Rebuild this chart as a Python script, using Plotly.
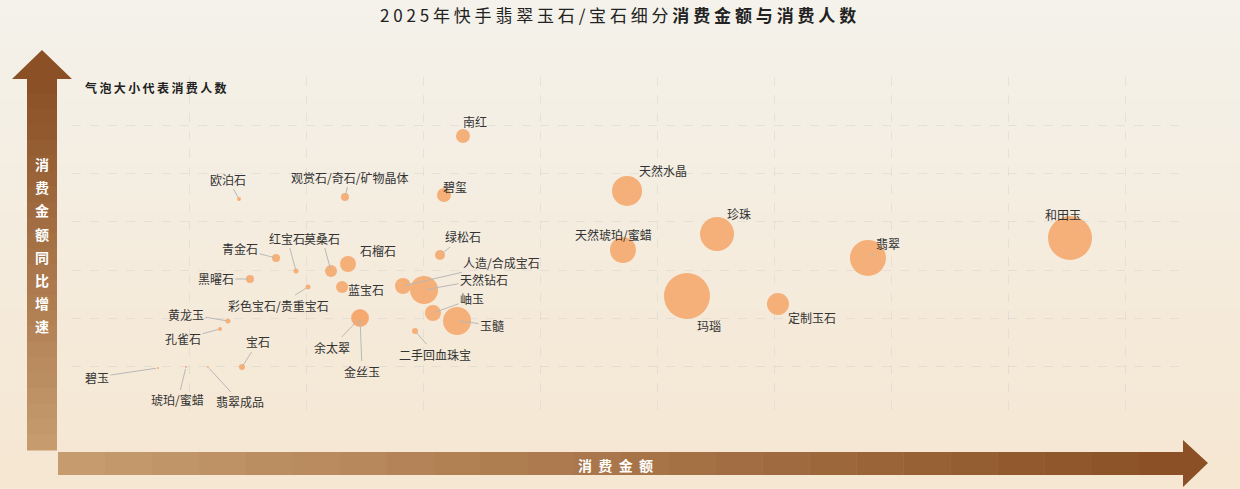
import plotly.graph_objects as go

W, H = 1240, 489
L, R, T, B = 72, 1183, 77, 415

names = ["南红","欧泊石","观赏石/奇石/矿物晶体","碧玺","天然水晶","珍珠","和田玉","翡翠","天然琥珀/蜜蜡","绿松石",
         "青金石","红宝石","莫桑石","石榴石","黑曜石","人造/合成宝石","天然钻石","蓝宝石","彩色宝石/贵重宝石","岫玉",
         "玉髓","玛瑙","定制玉石","余太翠","金丝玉","黄龙玉","孔雀石","二手回血珠宝","宝石","碧玉","琥珀/蜜蜡","翡翠成品"]
# pixel-read positions converted to axis units (x: 0..9.5, y: 0..7)
px_x = [463,239,345,444,627,717,1070,868,623,440,276,296,331,348,250,403,424,342,308,433,457,687,778,360,360,228,220,415,242,158,186,208]
px_y = [136,199,197,195,191,234,238,258,250,255,258,271,271,264,279,286,290,287,287,313,321,296,304,318,318,321,329,331,367,368,367,367]
spend = [round((x - L) / 117.0, 3) for x in px_x]
growth = [round((B - y) / 48.3, 3) for y in px_y]
people = [14,4,8,14,30,34,44,36,26,10,8,5,12,16,8,16,28,12,5,16,28,46,22,18,16,5,4,6,6,2,2,2]
# label offsets (px) and whether leader line shown
off = [(12,-15,0),(-11,-20,1),(5,-20,1),(11,-8,0),(36,-20,0),(22,-21,0),(-7,-23,0),(20,-14,1),(-9,-16,0),(23,-18,1),
       (-36,-9,1),(-9,-33,1),(-9,-33,1),(30,-14,0),(-34,0,1),(99,-23,1),(60,-11,1),(24,2,0),(-29,18,1),(39,-14,1),
       (35,4,1),(22,30,0),(34,13,0),(-28,29,1),(2,53,1),(-42,-7,1),(-37,10,1),(20,23,1),(16,-25,1),(-61,9,1),(-8,33,1),(32,35,1)]
y_title = "消费金额同比增速"
x_title = "消费金额"

fig = go.Figure()
fig.add_trace(go.Scatter(x=spend, y=growth, mode="markers", text=names,
    marker=dict(size=people, sizemode="diameter", sizeref=1, color="#f5a86e", opacity=0.9, line=dict(width=0)),
    hoverinfo="text", showlegend=False))

anns = []
for n, x, y, (dx, dy, ln) in zip(names, spend, growth, off):
    anns.append(dict(x=x, y=y, ax=dx, ay=dy, text=n, showarrow=True, arrowhead=0, arrowwidth=1,
                     arrowcolor="#b8b8b8" if ln else "rgba(0,0,0,0)", standoff=2,
                     font=dict(size=12, color="#333", family="Noto Sans CJK SC")))

def px2p(x, y):
    return (x - L) / (R - L), (B - y) / (B - T)

shapes = []
N = 30
for i in range(N):
    t = i / (N - 1)
    c0 = (244, 242, 235); c1 = (246, 231, 210)
    c = tuple(int(c0[k] + (c1[k] - c0[k]) * t) for k in range(3))
    y0 = H * i / N; y1 = H * (i + 1) / N + 1
    a = px2p(0, y0); b = px2p(W, y1)
    shapes.append(dict(type="rect", xref="paper", yref="paper", x0=a[0], x1=b[0], y0=a[1], y1=b[1],
                       fillcolor="rgb(%d,%d,%d)" % c, line=dict(width=0), layer="below"))

dark = (139, 80, 38); light = (198, 156, 110)
def mix(t):
    return "rgb(%d,%d,%d)" % tuple(int(dark[k] + (light[k] - dark[k]) * t) for k in range(3))

M = 24
for i in range(M):
    y0 = 78 + (450 - 78) * i / M; y1 = 78 + (450 - 78) * (i + 1) / M + 0.5
    a = px2p(27, y0); b = px2p(57, y1)
    shapes.append(dict(type="rect", xref="paper", yref="paper", x0=a[0], x1=b[0], y0=a[1], y1=b[1],
                       fillcolor=mix(i / (M - 1)), line=dict(width=0)))
p1 = px2p(12, 79); p2 = px2p(42, 50); p3 = px2p(72, 79)
shapes.append(dict(type="path", xref="paper", yref="paper",
    path="M %f %f L %f %f L %f %f Z" % (p1[0], p1[1], p2[0], p2[1], p3[0], p3[1]), fillcolor=mix(0), line=dict(width=0)))
for i in range(M):
    x0 = 58 + (1185 - 58) * i / M; x1 = 58 + (1185 - 58) * (i + 1) / M + 0.5
    a = px2p(x0, 452); b = px2p(x1, 475)
    shapes.append(dict(type="rect", xref="paper", yref="paper", x0=a[0], x1=b[0], y0=a[1], y1=b[1],
                       fillcolor=mix(1 - i / (M - 1)), line=dict(width=0)))
p1 = px2p(1183, 440); p2 = px2p(1208, 463); p3 = px2p(1183, 487)
shapes.append(dict(type="path", xref="paper", yref="paper",
    path="M %f %f L %f %f L %f %f Z" % (p1[0], p1[1], p2[0], p2[1], p3[0], p3[1]), fillcolor=mix(0), line=dict(width=0)))

def pann(x, y, text, **kw):
    p = px2p(x, y)
    d = dict(x=p[0], y=p[1], xref="paper", yref="paper", text=text, showarrow=False,
             yanchor="middle", xanchor="center")
    d.update(kw)
    anns.append(d)

pann(618, 14, "2 0 2 5 年 快 手 翡 翠 玉 石 / 宝 石 细 分 <b>消 费 金 额 与 消 费 人 数</b>",
     font=dict(size=17, color="#222", family="Noto Sans CJK SC"))
pann(83, 87, "<b>" + "&#8201;".join("气泡大小代表消费人数") + "</b>", xanchor="left",
     font=dict(size=12, color="#222", family="Noto Sans CJK SC"))
for i, ch in enumerate(y_title):
    pann(42, 164 + 23.2 * i, "<b>" + ch + "</b>", font=dict(size=14, color="white", family="Noto Sans CJK SC"))
pann(615, 465, "<b>" + "&nbsp;&nbsp;".join(x_title) + "</b>", font=dict(size=14, color="white", family="Noto Sans CJK SC"))

fig.update_layout(width=W, height=H, margin=dict(l=L, r=W - R, t=T, b=H - B),
    paper_bgcolor="#f4f0e8", plot_bgcolor="rgba(0,0,0,0)", annotations=anns, shapes=shapes,
    xaxis=dict(range=[0, (R - L) / 117.0], dtick=1, tick0=0, showticklabels=False, zeroline=False,
               showgrid=True, gridcolor="rgba(200,200,200,0.35)", griddash="dash", showline=False),
    yaxis=dict(range=[0, (B - T) / 48.3], dtick=1, tick0=0, showticklabels=False, zeroline=False,
               showgrid=True, gridcolor="rgba(200,200,200,0.35)", griddash="dash", showline=False))
fig.write_html("out.html", config={"displayModeBar": False},
               post_script="document.body.style.margin='0';document.body.style.overflow='hidden';")
